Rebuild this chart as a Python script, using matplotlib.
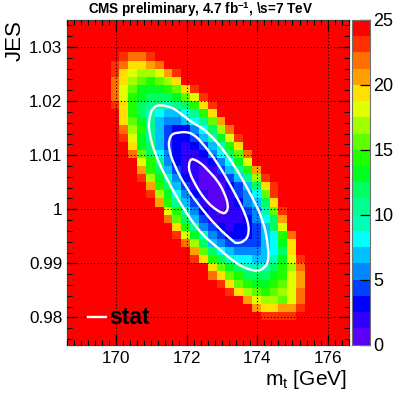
#!/usr/bin/env python3
import numpy as np
import matplotlib
matplotlib.use('Agg')
import matplotlib.pyplot as plt
from matplotlib.colors import ListedColormap, BoundaryNorm
from matplotlib.path import Path
from matplotlib.patches import PathPatch

plt.rcParams['font.family'] = ['Liberation Sans', 'DejaVu Sans']
plt.rcParams['mathtext.fontset'] = 'custom'
plt.rcParams['mathtext.rm'] = 'Liberation Sans'
plt.rcParams['mathtext.bf'] = 'Liberation Sans:bold'
plt.rcParams['mathtext.default'] = 'rm'

# colour band of each coloured cell (0 = lowest, 19 = top), rows from the top of the plot
row_first_col = [6, 5, 5, 5, 5, 5, 5, 6, 6, 6, 6, 7, 7, 8, 8, 8, 9, 9, 10, 11, 11, 12, 12,
                 13, 14, 14, 16, 16, 17, 18, 20, 21, 22]
row_bands = [
    [18, 17, 17, 18],
    [18, 17, 15, 15, 16, 17],
    [18, 15, 14, 13, 13, 14, 16, 18],
    [17, 15, 13, 12, 11, 12, 13, 15],
    [17, 14, 12, 10, 10, 10, 11, 12, 15, 18],
    [17, 14, 11, 10, 9, 9, 9, 10, 12, 14, 18],
    [18, 15, 11, 9, 8, 8, 7, 8, 9, 11, 15, 18],
    [15, 11, 9, 7, 6, 5, 5, 6, 8, 11, 15],
    [15, 12, 10, 8, 5, 4, 4, 5, 6, 8, 12, 16],
    [17, 13, 11, 8, 5, 3, 2, 2, 4, 6, 9, 13, 17],
    [18, 14, 10, 8, 5, 3, 2, 2, 3, 5, 7, 10, 14, 18],
    [15, 10, 9, 5, 3, 2, 1, 2, 3, 5, 7, 11, 15],
    [17, 12, 9, 6, 4, 2, 1, 1, 2, 4, 6, 9, 12, 17],
    [14, 11, 8, 4, 2, 1, 1, 1, 2, 4, 6, 10, 14],
    [16, 11, 9, 5, 3, 1, 1, 0, 1, 3, 5, 8, 11, 16],
    [18, 13, 10, 7, 4, 2, 1, 0, 0, 1, 3, 5, 8, 13, 18],
    [16, 11, 9, 5, 3, 1, 0, 0, 0, 2, 3, 5, 9, 15, 18],
    [18, 13, 10, 6, 4, 2, 1, 0, 0, 1, 3, 4, 6, 12, 18],
    [16, 11, 8, 5, 3, 1, 0, 0, 1, 2, 4, 5, 9, 15],
    [14, 11, 7, 4, 2, 1, 0, 1, 1, 3, 4, 7, 12, 18],
    [17, 12, 9, 5, 3, 1, 1, 1, 1, 2, 4, 6, 9, 16],
    [15, 11, 8, 4, 3, 2, 1, 2, 2, 3, 5, 9, 14],
    [18, 14, 10, 7, 4, 3, 2, 2, 2, 3, 5, 6, 11, 17],
    [17, 13, 9, 5, 4, 3, 3, 3, 3, 5, 6, 10, 15],
    [16, 12, 9, 6, 5, 4, 4, 4, 5, 6, 9, 15],
    [18, 15, 11, 9, 7, 6, 6, 5, 5, 7, 10, 14, 18],
    [15, 12, 10, 9, 7, 7, 7, 9, 11, 13, 17],
    [17, 15, 12, 11, 9, 9, 9, 10, 11, 14, 16],
    [18, 15, 12, 11, 10, 10, 11, 12, 14, 16],
    [18, 15, 13, 12, 11, 12, 13, 14, 17],
    [16, 14, 13, 13, 12, 14, 17],
    [16, 15, 15, 16, 16, 18],
    [18, 18, 18, 18],
]
first_row = 4
n_cols = 32
n_rows = 40

band_colors = ['#5a00f5', '#3000ff', '#0000ff', '#0040ff', '#0088ff', '#00c0ff', '#00ffff',
               '#00ffb4', '#00ff90', '#00ff60', '#00ff20', '#20ff00', '#60ff00', '#a0ff00',
               '#e0ff00', '#ffe000', '#ffa000', '#ff7000', '#ff3000', '#ff0000']

mt_edges = np.linspace(168.6, 176.6, n_cols + 1)
jes_edges = np.linspace(1.035, 0.975, n_rows + 1)

x_ticks = [170, 172, 174, 176]
y_ticks = [0.98, 0.99, 1.0, 1.01, 1.02, 1.03]
y_tick_labels = ['0.98', '0.99', '1', '1.01', '1.02', '1.03']
z_ticks = [0, 5, 10, 15, 20, 25]

outer_mt = [171.26, 171.54, 171.74, 172.20, 172.45, 172.68, 172.88, 173.33, 173.81, 174.18,
            174.32, 174.32, 174.18, 174.01, 173.67, 173.33, 172.88, 172.40, 171.91, 171.46,
            171.12, 170.92, 170.95, 171.06]
outer_jes = [1.01932, 1.01895, 1.01821, 1.01581, 1.01507, 1.01360, 1.01231, 1.00843, 1.00290,
             0.99791, 0.99293, 0.99017, 0.98906, 0.98851, 0.98906, 0.99035, 0.99293, 0.99552,
             1.00013, 1.00530, 1.00991, 1.01452, 1.01729, 1.01895]
middle_mt = [171.74, 171.97, 172.17, 172.40, 172.88, 173.33, 173.72, 173.78, 173.64, 173.41,
             173.33, 172.88, 172.40, 171.97, 171.63, 171.49, 171.51, 171.60]
middle_jes = [1.01415, 1.01433, 1.01397, 1.01267, 1.00861, 1.00345, 0.99847, 0.99552, 0.99404,
              0.99367, 0.99404, 0.99662, 1.00032, 1.00419, 1.00843, 1.01138, 1.01304, 1.01397]
inner_mt = [172.17, 172.40, 172.62, 172.88, 173.07, 173.19, 173.13, 173.02, 172.79, 172.60,
            172.40, 172.25, 172.08, 172.06, 172.11]
inner_jes = [1.00935, 1.00861, 1.00714, 1.00530, 1.00308, 1.00068, 0.99939, 0.99921, 1.00013,
             1.00124, 1.00290, 1.00456, 1.00677, 1.00825, 1.00917]
contours = [(outer_mt, outer_jes), (middle_mt, middle_jes), (inner_mt, inner_jes)]

legend_mt = [169.2, 169.72]
legend_jes = [0.98, 0.98]


def closed_curve(xs, ys):
    # quadratic spline with the read points as control points
    pts = np.column_stack([xs, ys])
    mids = (pts + np.roll(pts, -1, axis=0)) / 2
    verts = [mids[-1]]
    codes = [Path.MOVETO]
    for p, m in zip(pts, mids):
        verts += [p, m]
        codes += [Path.CURVE3, Path.CURVE3]
    return Path(verts, codes)


def main():
    chi2 = np.full((n_rows, n_cols), 30.0)
    for i, (start, bands) in enumerate(zip(row_first_col, row_bands)):
        for j, band in enumerate(bands):
            chi2[first_row + i, start + j] = (band + 0.5) * 1.25

    levels = np.linspace(0, 25, 21)
    cmap = ListedColormap(band_colors)
    cmap.set_over('#ff0000')
    norm = BoundaryNorm(levels, cmap.N)

    fig = plt.figure(figsize=(4.15, 3.96), dpi=100)
    ax = fig.add_axes([66.5 / 415, 51.5 / 396, 282.5 / 415, 324.5 / 396])
    cax = fig.add_axes([351.5 / 415, 51.5 / 396, 18.5 / 415, 324.5 / 396])

    ax.pcolormesh(mt_edges, jes_edges, chi2, cmap=cmap, norm=norm, linewidth=0, rasterized=True)
    ax.set_xlim(168.6, 176.6)
    ax.set_ylim(0.975, 1.035)

    ax.set_xticks(x_ticks)
    ax.set_yticks(y_ticks)
    ax.set_yticklabels(y_tick_labels)
    ax.set_xticks(np.arange(168.6, 176.61, 0.2), minor=True)
    ax.set_yticks(np.arange(0.976, 1.035, 0.002), minor=True)
    ax.tick_params(which='major', direction='in', top=True, right=True, length=7.5, width=0.9,
                   labelsize=12.3, color='black')
    ax.tick_params(which='minor', direction='in', top=True, right=True, length=3.5, width=0.8,
                   color='black')
    ax.tick_params(axis='x', which='major', pad=4.5)
    ax.tick_params(axis='y', which='major', pad=3)
    ax.grid(True, which='major', color='black', linestyle=(0, (1, 2)), linewidth=0.8)
    ax.set_axisbelow(False)
    for spine in ax.spines.values():
        spine.set_linewidth(0.9)
        spine.set_color('#404040')

    for xs, ys in contours:
        ax.add_patch(PathPatch(closed_curve(xs, ys), fill=False, edgecolor='white',
                               linewidth=1.7, zorder=5))
    ax.plot(legend_mt, legend_jes, color='white', linewidth=1.7, zorder=5)
    ax.text(169.82, 0.98, 'stat', fontsize=16.5, fontweight='bold', ha='left', va='center',
            color='black', zorder=6)

    # colour scale
    cax.pcolormesh([0, 1], levels, np.array(levels[:-1] + 0.6).reshape(-1, 1), cmap=cmap, norm=norm)
    cax.set_xlim(0, 1)
    cax.set_ylim(0, 25)
    cax.set_xticks([])
    cax.yaxis.tick_right()
    cax.set_yticks(z_ticks)
    cax.set_yticklabels([str(t) for t in z_ticks])
    cax.tick_params(axis='y', direction='in', length=7.5, width=0.9, labelsize=13, pad=2.5,
                    color='black')
    for spine in cax.spines.values():
        spine.set_linewidth(0.8)
        spine.set_color('#707070')

    fig.text(200.5 / 415, 1 - 9.5 / 396, r'CMS preliminary, 4.7 fb$^{\mathbf{-1}}$, \s=7 TeV',
             fontsize=9.75, fontweight='bold', ha='center', va='center')
    fig.text(347 / 415, 1 - 385 / 396, r'm$_{t}$ [GeV]', fontsize=15, ha='right', va='baseline')
    fig.text(15 / 415, 1 - 20 / 396, 'JES', fontsize=16, rotation=90, ha='center', va='top')

    fig.savefig('out.png', dpi=100)


if __name__ == '__main__':
    main()
